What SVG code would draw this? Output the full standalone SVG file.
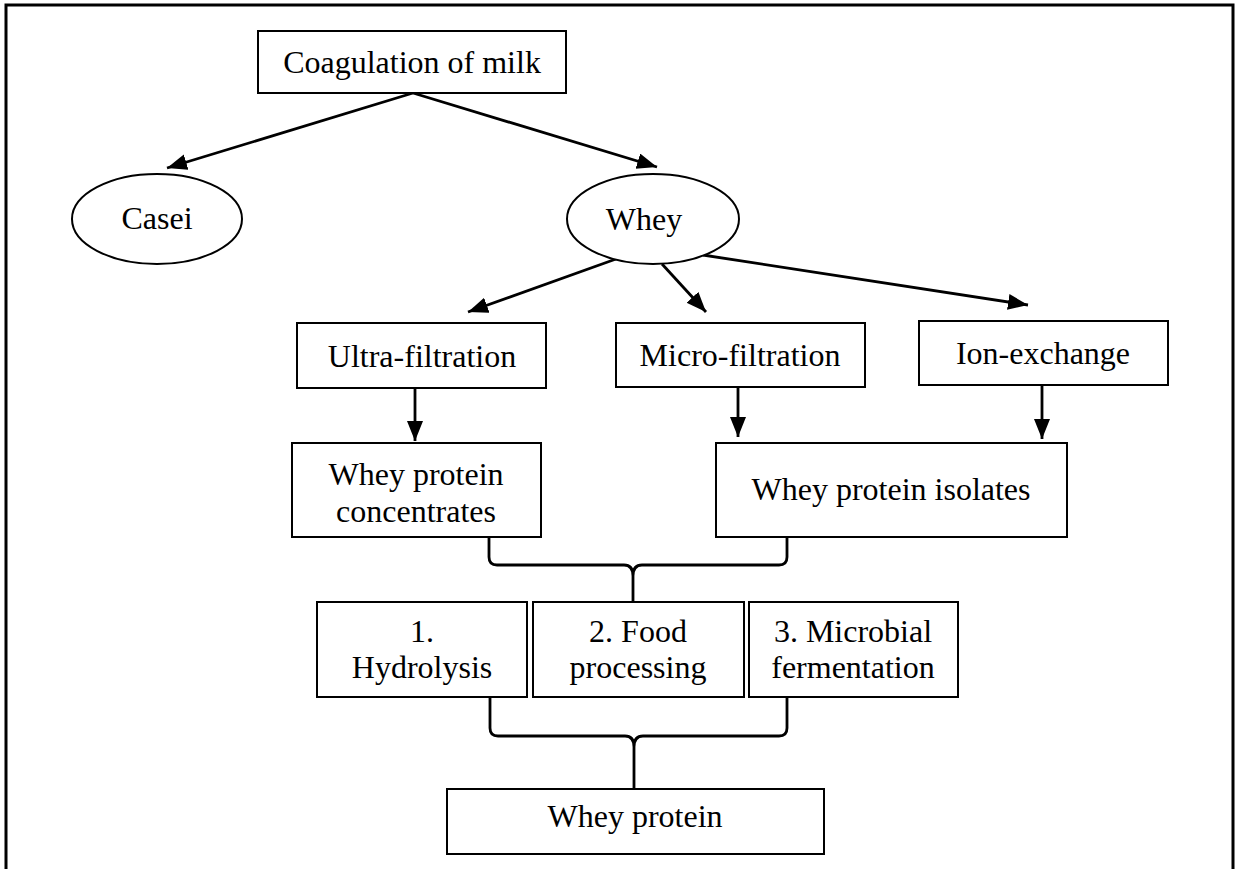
<svg xmlns="http://www.w3.org/2000/svg" width="1238" height="869" viewBox="0 0 1238 869">
<style>
.box{fill:#fff;stroke:#000;stroke-width:2}
.t{font-family:"Liberation Serif","Times New Roman",serif;font-size:32px;fill:#000;text-anchor:middle}
.c{fill:none;stroke:#000;stroke-width:2.8}
</style>
<defs>
<marker id="ah" markerUnits="userSpaceOnUse" markerWidth="22" markerHeight="18" refX="20" refY="8" orient="auto">
<path d="M0,0 L20,8 L0,16 Z" fill="#000"/>
</marker>
</defs>
<rect width="1238" height="869" fill="#fff"/>
<path d="M6,869 V5 H1233 V869" fill="none" stroke="#000" stroke-width="3"/>
<g id="connectors">
<line class="c" x1="413" y1="93" x2="167" y2="168" marker-end="url(#ah)"/>
<line class="c" x1="413" y1="93" x2="657" y2="167" marker-end="url(#ah)"/>
<line class="c" x1="616" y1="259" x2="468" y2="312" marker-end="url(#ah)"/>
<line class="c" x1="662" y1="264" x2="706" y2="312" marker-end="url(#ah)"/>
<line class="c" x1="703" y1="255" x2="1028" y2="305" marker-end="url(#ah)"/>
<line class="c" x1="415" y1="388" x2="415" y2="441" marker-end="url(#ah)"/>
<line class="c" x1="738" y1="387" x2="738" y2="437" marker-end="url(#ah)"/>
<line class="c" x1="1042" y1="385" x2="1042" y2="439" marker-end="url(#ah)"/>
<path class="c" d="M489,537 V557 Q489,565 497,565 H624 Q633,565 633,576 V602 M787,537 V557 Q787,565 779,565 H642 Q633,565 633,576"/>
<path class="c" d="M490,697 V728 Q490,736 498,736 H625 Q634,736 634,747 V789 M787,697 V728 Q787,736 779,736 H643 Q634,736 634,747"/>
</g>
<g id="coagulation">
<rect class="box" x="258" y="31" width="308" height="62"/>
<text class="t" x="412" y="73">Coagulation of milk</text>
</g>
<g id="casei">
<ellipse class="box" cx="157" cy="219" rx="85" ry="45"/>
<text class="t" x="157" y="229">Casei</text>
</g>
<g id="whey">
<ellipse class="box" cx="653" cy="219" rx="86" ry="45"/>
<text class="t" x="644" y="230">Whey</text>
</g>
<g id="ultra">
<rect class="box" x="297" y="323" width="249" height="65"/>
<text class="t" x="422" y="367">Ultra-filtration</text>
</g>
<g id="micro">
<rect class="box" x="616" y="323" width="249" height="64"/>
<text class="t" x="740" y="366">Micro-filtration</text>
</g>
<g id="ion">
<rect class="box" x="919" y="321" width="249" height="64"/>
<text class="t" x="1043" y="364">Ion-exchange</text>
</g>
<g id="wpc">
<rect class="box" x="292" y="443" width="249" height="94"/>
<text class="t" x="416" y="485">Whey protein</text>
<text class="t" x="416" y="522">concentrates</text>
</g>
<g id="wpi">
<rect class="box" x="716" y="443" width="351" height="94"/>
<text class="t" x="891" y="500">Whey protein isolates</text>
</g>
<g id="hydrolysis">
<rect class="box" x="317" y="602" width="210" height="95"/>
<text class="t" x="422" y="642">1.</text>
<text class="t" x="422" y="678">Hydrolysis</text>
</g>
<g id="food">
<rect class="box" x="533" y="602" width="211" height="95"/>
<text class="t" x="638" y="642">2. Food</text>
<text class="t" x="638" y="678">processing</text>
</g>
<g id="microbial">
<rect class="box" x="749" y="602" width="209" height="95"/>
<text class="t" x="853" y="642">3. Microbial</text>
<text class="t" x="853" y="678">fermentation</text>
</g>
<g id="wp">
<rect class="box" x="447" y="789" width="377" height="65"/>
<text class="t" x="635" y="827">Whey protein</text>
</g>
</svg>
